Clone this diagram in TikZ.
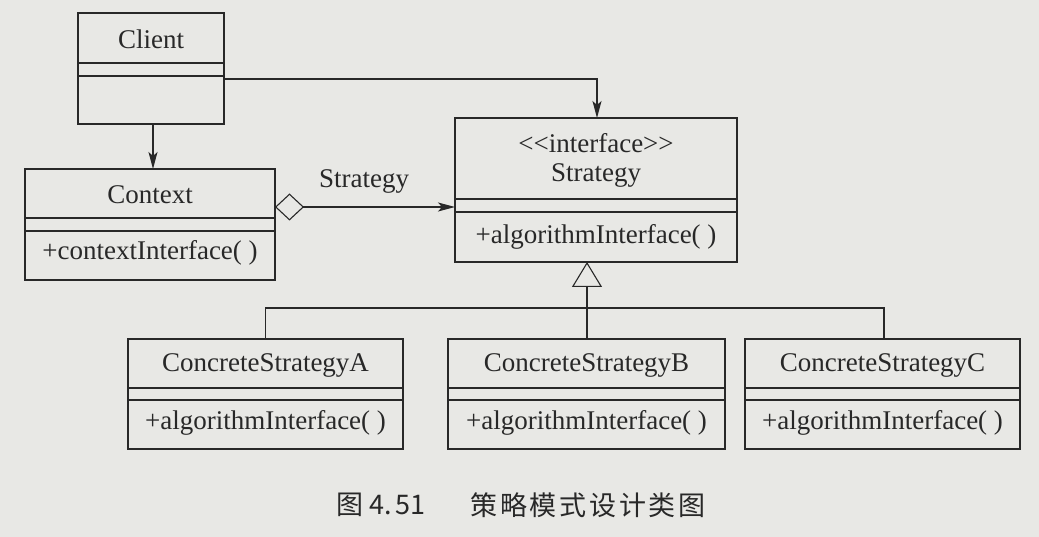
\documentclass[tikz,border=0pt]{standalone}
\usepackage{fontspec}
\setmainfont{Liberation Serif}
\newfontfamily\cjk{Noto Sans CJK SC}
\newfontfamily\cjkspaced[LetterSpace=10]{Noto Sans CJK SC}
\usetikzlibrary{arrows.meta}
\definecolor{bg}{RGB}{232,232,229}
\definecolor{ink}{RGB}{40,40,40}
\definecolor{txt}{RGB}{40,40,40}
\tikzset{
  umlbox/.style={draw=ink, line width=1.4pt, rectangle, inner sep=0pt, outer sep=0pt},
  lbl/.style={text=txt, inner sep=0pt, font=\fontsize{27}{30}\selectfont},
  divider/.style={draw=ink, line width=1.4pt},
  conn/.style={draw=ink, line width=1.1pt},
  assoc/.style={conn, -{Stealth[length=17pt,width=9pt,inset=4pt]}},
  aggr/.style={conn, {Diamond[open,length=29pt,width=27pt,line width=1.1pt]}-{Stealth[length=17pt,width=9pt,inset=4pt]}},
  gen/.style={conn, -{Triangle[open,length=25pt,width=30pt,line width=1.1pt]}},
}
\begin{document}
\begin{tikzpicture}[x=1pt,y=-1pt]
\fill[bg] (0,0) rectangle (1039,537);
\useasboundingbox (0,0) rectangle (1039,537);

% Client
\node[umlbox, minimum width=146pt, minimum height=111pt] (client) at (151,68.5) {};
\node[lbl] (clientname) at (151,39) {Client};
\draw[divider] (client.west |- 0,63) -- (client.east |- 0,63);
\draw[divider] (client.west |- 0,76) -- (client.east |- 0,76);

% Context
\node[umlbox, minimum width=250pt, minimum height=111pt] (context) at (150,224.5) {};
\node[lbl] (contextname) at (150,195) {Context};
\draw[divider] (context.west |- 0,218) -- (context.east |- 0,218);
\draw[divider] (context.west |- 0,231) -- (context.east |- 0,231);
\node[lbl] (contextop) at (150,253) {+contextInterface( )};

% Strategy
\node[umlbox, minimum width=282pt, minimum height=144pt] (strategy) at (596,190) {};
\node[lbl] (stereo) at (596,143) {<\kern0pt<interface>\kern0pt>};
\node[lbl] (strategyname) at (596,175) {Strategy};
\draw[divider] (strategy.west |- 0,199) -- (strategy.east |- 0,199);
\draw[divider] (strategy.west |- 0,212) -- (strategy.east |- 0,212);
\node[lbl] (strategyop) at (596,237) {+algorithmInterface( )};

% Concrete strategies
\node[umlbox, minimum width=275pt, minimum height=110pt] (csa) at (265.5,394) {};
\node[lbl] (csaname) at (265.5,365) {ConcreteStrategyA};
\draw[divider] (csa.west |- 0,388) -- (csa.east |- 0,388);
\draw[divider] (csa.west |- 0,400) -- (csa.east |- 0,400);
\node[lbl] (csaop) at (265.5,423) {+algorithmInterface( )};

\node[umlbox, minimum width=277pt, minimum height=110pt] (csb) at (586.5,394) {};
\node[lbl] (csbname) at (586.5,365) {ConcreteStrategyB};
\draw[divider] (csb.west |- 0,388) -- (csb.east |- 0,388);
\draw[divider] (csb.west |- 0,400) -- (csb.east |- 0,400);
\node[lbl] (csbop) at (586.5,423) {+algorithmInterface( )};

\node[umlbox, minimum width=275pt, minimum height=110pt] (csc) at (882.5,394) {};
\node[lbl] (cscname) at (882.5,365) {ConcreteStrategyC};
\draw[divider] (csc.west |- 0,388) -- (csc.east |- 0,388);
\draw[divider] (csc.west |- 0,400) -- (csc.east |- 0,400);
\node[lbl] (cscop) at (882.5,423) {+algorithmInterface( )};

% Connectors
\draw[assoc] (client.south -| 153,0) -- (context.north -| 153,0);
\coordinate (cturn) at (597,79);
\draw[assoc] (client.east |- cturn) -- (cturn) -- (cturn |- strategy.north);
\coordinate (aggy) at (0,207);
\draw[aggr] (context.east |- aggy) -- (strategy.west |- aggy);
\node[lbl] (aggrlabel) at (364,181) {Strategy};

\coordinate (join) at (587,308);
\draw[gen] (join) -- (join |- strategy.south);
\draw[conn] (join) -- (join |- csb.north);
\draw[conn] (csa.north) -- (csa.north |- join) -- (join) -- (884,308) -- (csc.north -| 884,0);

% Caption
\node[text=txt, inner sep=0pt, anchor=west, font=\cjk\fontsize{27}{30}\selectfont] (capnum) at (336,505) {图\hspace{6pt}4.\hspace{4pt}51};
\node[text=txt, inner sep=0pt, font=\cjkspaced\fontsize{27}{30}\selectfont] (captext) at (588,505) {策略模式设计类图};
\end{tikzpicture}
\end{document}
